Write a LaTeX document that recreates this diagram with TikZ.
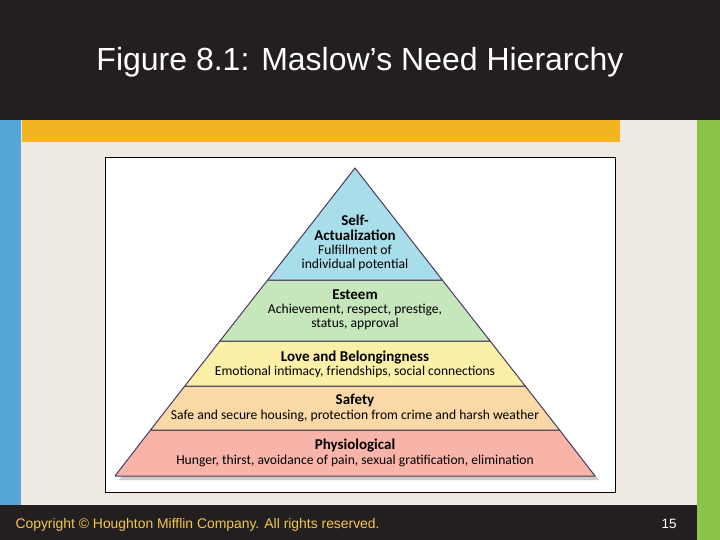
\documentclass[tikz,border=0pt]{standalone}
\usepackage{fontspec}
\setmainfont{Liberation Sans}
\newfontfamily\pyr{Carlito}
\newcommand\hdf{\pyr\bfseries\fontsize{15}{15.5}\selectfont}
\definecolor{dark}{HTML}{231F20}
\definecolor{orng}{HTML}{F2B420}
\definecolor{lblue}{HTML}{55A7DA}
\definecolor{lgreen}{HTML}{8CC44A}
\definecolor{bg}{HTML}{EEEAE2}
\definecolor{cA}{HTML}{A8DDEA}
\definecolor{cB}{HTML}{C6E6BC}
\definecolor{cC}{HTML}{FCF0A8}
\definecolor{cD}{HTML}{FBD9A6}
\definecolor{cE}{HTML}{F8B4A8}
\definecolor{edge}{HTML}{4A3A5E}
\definecolor{gold}{HTML}{F2C84A}
\tikzset{layer/.style={draw=edge,line width=1pt,line join=round},
 lab/.style={font=\pyr\fontsize{13.6}{14.2}\selectfont,align=center,inner sep=0pt}}
\begin{document}
\begin{tikzpicture}[x=1pt,y=-1pt]
\useasboundingbox (0,0) rectangle (720,540);
\fill[bg] (0,0) rectangle (720,540);
\fill[dark] (0,0) rectangle (720,120);
\fill[lblue] (0,120) rectangle (21,505);
\fill[lgreen] (697,120) rectangle (720,540);
\fill[orng] (22,120) rectangle (620,142);
\fill[dark] (0,505) rectangle (697,540);
\node[text=white,font=\fontsize{32}{36}\selectfont] (title) at (360,62) {Figure 8.1: Maslow’s Need Hierarchy};
\node[text=gold,font=\fontsize{13.9}{16}\selectfont,anchor=west] (copy) at (12,525) {Copyright © Houghton Mifflin Company. All rights reserved.};
\node[text=white,font=\fontsize{13.5}{16}\selectfont] (page) at (669,524) {15};
\node[draw=black,fill=white,line width=0.8pt,minimum width=510,minimum height=335,inner sep=0pt] (frame) at (360,324.5) {};
\coordinate (apex) at (355,168);
\fill[gray!40] (357,172) -- (599,480) -- (119,480) -- cycle;
\filldraw[layer,fill=cE] (355-204.5,430) -- (355+204.5,430) -- (595,476) -- (115,476) -- cycle;
\filldraw[layer,fill=cD] (355-170.2,386) -- (355+170.2,386) -- (355+204.5,430) -- (355-204.5,430) -- cycle;
\filldraw[layer,fill=cC] (355-135.1,341) -- (355+135.1,341) -- (355+170.2,386) -- (355-170.2,386) -- cycle;
\filldraw[layer,fill=cB] (355-87.3,280) -- (355+87.3,280) -- (355+135.1,341) -- (355-135.1,341) -- cycle;
\filldraw[layer,fill=cA] (apex) -- (355+87.3,280) -- (355-87.3,280) -- cycle;
\node[lab] (l1) at (355,243) {{\hdf Self-}\\{\hdf Actualization}\\Fulfillment of\\individual potential};
\node[lab] (l2) at (355,310) {{\hdf Esteem}\\Achievement, respect, prestige,\\status, approval};
\node[lab] (l3) at (355,364) {{\hdf Love and Belongingness}\\Emotional intimacy, friendships, social connections};
\node[lab] (l4) at (355,408) {{\hdf Safety}\\Safe and secure housing, protection from crime and harsh weather};
\node[lab] (l5) at (355,453) {{\hdf Physiological}\\Hunger, thirst, avoidance of pain, sexual gratification, elimination};
\end{tikzpicture}
\end{document}
